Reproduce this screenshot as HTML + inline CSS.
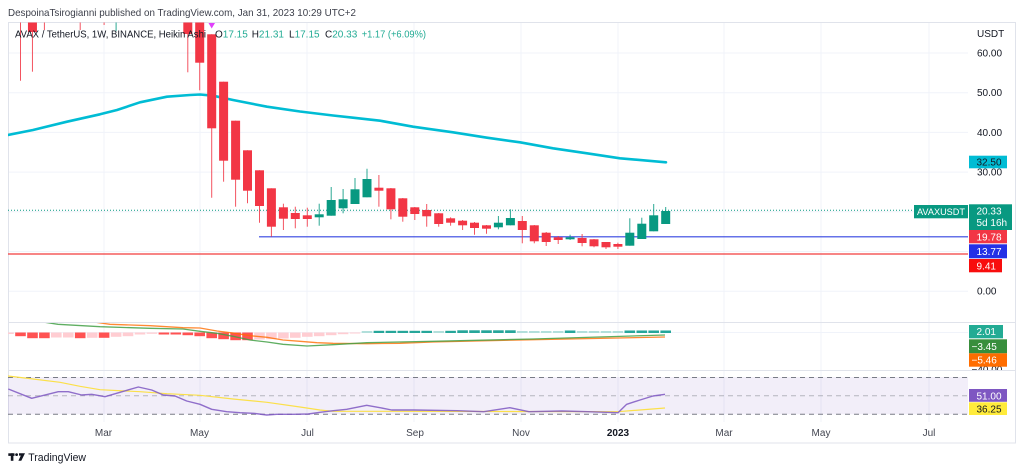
<!DOCTYPE html>
<html><head><meta charset="utf-8"><style>
html,body{margin:0;padding:0;background:#fff;}
svg{display:block;font-family:"Liberation Sans",sans-serif;}
</style></head><body>
<svg width="1024" height="473" viewBox="0 0 1024 473" xmlns="http://www.w3.org/2000/svg">
<defs>
<clipPath id="mainClip"><rect x="8" y="22.5" width="960" height="299.5"/></clipPath>
<clipPath id="macdClip"><rect x="8" y="323" width="960" height="47"/></clipPath>
<clipPath id="rsiClip"><rect x="8" y="371" width="960" height="51"/></clipPath>
<clipPath id="axClip"><rect x="969" y="323" width="47" height="47"/></clipPath>
</defs>
<rect x="0" y="0" width="1024" height="473" fill="#fff"/>

<!-- title -->
<text x="8" y="16" font-size="10.5" fill="#3c3f4a" textLength="348" lengthAdjust="spacingAndGlyphs">DespoinaTsirogianni published on TradingView.com, Jan 31, 2023 10:29 UTC+2</text>

<!-- grid vertical -->
<g stroke="#f0f3fa" stroke-width="1">
<line x1="104" y1="23" x2="104" y2="422"/>
<line x1="200" y1="23" x2="200" y2="422"/>
<line x1="307" y1="23" x2="307" y2="422"/>
<line x1="414" y1="23" x2="414" y2="422"/>
<line x1="521" y1="23" x2="521" y2="422"/>
<line x1="618" y1="23" x2="618" y2="422"/>
<line x1="724" y1="23" x2="724" y2="422"/>
<line x1="821" y1="23" x2="821" y2="422"/>
<line x1="929" y1="23" x2="929" y2="422"/>
</g>
<!-- grid horizontal -->
<g stroke="#f0f3fa" stroke-width="1">
<line x1="8" y1="53" x2="968" y2="53"/>
<line x1="8" y1="92.7" x2="968" y2="92.7"/>
<line x1="8" y1="132.4" x2="968" y2="132.4"/>
<line x1="8" y1="172.1" x2="968" y2="172.1"/>
<line x1="8" y1="211.8" x2="968" y2="211.8"/>
<line x1="8" y1="251.5" x2="968" y2="251.5"/>
<line x1="8" y1="291.2" x2="968" y2="291.2"/>
<line x1="8" y1="332.5" x2="968" y2="332.5"/>
</g>

<!-- frame -->
<rect x="8.5" y="22.5" width="1007" height="420.5" fill="none" stroke="#e0e3eb" stroke-width="1"/>
<line x1="8" y1="322.5" x2="1016" y2="322.5" stroke="#e0e3eb"/>
<line x1="8" y1="370.5" x2="1016" y2="370.5" stroke="#e0e3eb"/>

<!-- MAIN PANE -->
<g clip-path="url(#mainClip)">
<!-- level lines -->
<line x1="8" y1="210.3" x2="914" y2="210.3" stroke="#089981" stroke-width="1" stroke-dasharray="1 2"/>
<line x1="259" y1="236.8" x2="968" y2="236.8" stroke="#3344e0" stroke-width="1.2"/>
<line x1="8" y1="254" x2="968" y2="254" stroke="#f23c3c" stroke-width="1.2"/>

<!-- MA -->
<polyline fill="none" stroke="#00bcd4" stroke-width="2.6" stroke-linejoin="round" stroke-linecap="round"
points="8,135 33,130 67,121.7 100,114.3 117,110 140,102.3 167,96.7 190,95 200,94.5 213,95.7 233,100 267,106.7 300,111.5 333,115.5 353,117.7 380,120.7 413,126.7 453,132.3 487,137.7 520,142.3 553,148.3 587,153.3 620,158.3 666,162.3"/>

<!-- red wicks -->
<g stroke="#f23645" stroke-width="1" opacity="0.85">
<line x1="20.5" y1="15" x2="20.5" y2="80.7"/>
<line x1="32.45" y1="15" x2="32.45" y2="71.7"/>
<line x1="44.4" y1="15" x2="44.4" y2="30"/>
<line x1="80.2" y1="15" x2="80.2" y2="30"/>
<line x1="104.1" y1="15" x2="104.1" y2="25"/>
<line x1="187.8" y1="15" x2="187.8" y2="72.3"/>
<line x1="199.7" y1="15" x2="199.7" y2="90.3"/>
<line x1="211.7" y1="34.3" x2="211.7" y2="197.7"/>
<line x1="223.6" y1="81.7" x2="223.6" y2="181.7"/>
<line x1="235.6" y1="120.7" x2="235.6" y2="206.7"/>
<line x1="247.5" y1="150.3" x2="247.5" y2="203.3"/>
<line x1="259.5" y1="170.3" x2="259.5" y2="222.7"/>
<line x1="271.4" y1="188.3" x2="271.4" y2="236.7"/>
<line x1="283.4" y1="203.7" x2="283.4" y2="230"/>
<line x1="295.3" y1="206.7" x2="295.3" y2="228.3"/>
<line x1="307.3" y1="207.7" x2="307.3" y2="226.7"/>
<line x1="378.9" y1="175" x2="378.9" y2="206.7"/>
<line x1="390.9" y1="188" x2="390.9" y2="219.3"/>
<line x1="402.8" y1="198" x2="402.8" y2="221.7"/>
<line x1="414.8" y1="207" x2="414.8" y2="220"/>
<line x1="426.7" y1="204" x2="426.7" y2="226.7"/>
<line x1="438.7" y1="213" x2="438.7" y2="226.7"/>
<line x1="450.6" y1="217.3" x2="450.6" y2="225.7"/>
<line x1="462.6" y1="220" x2="462.6" y2="230"/>
<line x1="474.5" y1="222" x2="474.5" y2="234.7"/>
<line x1="486.5" y1="225" x2="486.5" y2="233.7"/>
<line x1="522.3" y1="216" x2="522.3" y2="243.3"/>
<line x1="534.3" y1="225" x2="534.3" y2="243.3"/>
<line x1="546.2" y1="232" x2="546.2" y2="246"/>
<line x1="558.2" y1="236" x2="558.2" y2="244"/>
<line x1="582.1" y1="234" x2="582.1" y2="246.3"/>
<line x1="594.0" y1="239" x2="594.0" y2="247.3"/>
<line x1="606.0" y1="242" x2="606.0" y2="249"/>
<line x1="617.9" y1="242.7" x2="617.9" y2="249"/>
</g>
<!-- green wicks -->
<g stroke="#089981" stroke-width="1" opacity="0.85">
<line x1="116.1" y1="15" x2="116.1" y2="31"/>
<line x1="319.2" y1="203.7" x2="319.2" y2="225.7"/>
<line x1="331.2" y1="187" x2="331.2" y2="215.7"/>
<line x1="343.1" y1="189" x2="343.1" y2="213.3"/>
<line x1="355.0" y1="178" x2="355.0" y2="204"/>
<line x1="367.0" y1="168.7" x2="367.0" y2="197.3"/>
<line x1="498.4" y1="216" x2="498.4" y2="229.3"/>
<line x1="510.4" y1="209.3" x2="510.4" y2="225.3"/>
<line x1="570.1" y1="234.7" x2="570.1" y2="240"/>
<line x1="629.8" y1="218.3" x2="629.8" y2="245.7"/>
<line x1="641.8" y1="217.7" x2="641.8" y2="239"/>
<line x1="653.7" y1="204" x2="653.7" y2="231.3"/>
<line x1="665.7" y1="207" x2="665.7" y2="224"/>
</g>
<!-- red bodies -->
<g fill="#f23645">
<rect x="27.95" y="15" width="9" height="17"/>
<rect x="183.3" y="15" width="9" height="19"/>
<rect x="195.2" y="15" width="9" height="47.7"/>
<rect x="207.2" y="34.3" width="9" height="94"/>
<rect x="219.1" y="81.7" width="9" height="79"/>
<rect x="231.1" y="120.7" width="9" height="59"/>
<rect x="243" y="150.3" width="9" height="40.4"/>
<rect x="255" y="170.3" width="9" height="35.7"/>
<rect x="266.9" y="188.3" width="9" height="38.4"/>
<rect x="278.9" y="207.3" width="9" height="11.4"/>
<rect x="290.8" y="213" width="9" height="6"/>
<rect x="302.8" y="215.3" width="9" height="3.7"/>
<rect x="374.4" y="187.7" width="9" height="3"/>
<rect x="386.4" y="188.3" width="9" height="21"/>
<rect x="398.3" y="198.3" width="9" height="18.4"/>
<rect x="410.3" y="207.3" width="9" height="6.7"/>
<rect x="422.2" y="210" width="9" height="6.3"/>
<rect x="434.2" y="213.3" width="9" height="10.7"/>
<rect x="446.1" y="218.3" width="9" height="4.4"/>
<rect x="458.1" y="220.7" width="9" height="4.6"/>
<rect x="470" y="222.7" width="9" height="5.3"/>
<rect x="482" y="225.3" width="9" height="3.4"/>
<rect x="517.8" y="221" width="9" height="9"/>
<rect x="529.8" y="225.3" width="9" height="16"/>
<rect x="541.7" y="232.7" width="9" height="9.3"/>
<rect x="553.7" y="237.3" width="9" height="2.7"/>
<rect x="577.6" y="238" width="9" height="5"/>
<rect x="589.5" y="239.3" width="9" height="7"/>
<rect x="601.5" y="242" width="9" height="5.3"/>
<rect x="613.4" y="244" width="9" height="2.7"/>
</g>
<!-- green bodies -->
<g fill="#089981">
<rect x="314.7" y="214.3" width="9" height="3"/>
<rect x="326.7" y="200" width="9" height="15.7"/>
<rect x="338.6" y="199.3" width="9" height="9"/>
<rect x="350.5" y="189.3" width="9" height="14.7"/>
<rect x="362.5" y="179" width="9" height="18.3"/>
<rect x="493.9" y="222.7" width="9" height="4.6"/>
<rect x="505.9" y="218" width="9" height="7.3"/>
<rect x="565.6" y="237.3" width="9" height="2"/>
<rect x="625.3" y="232.7" width="9" height="13"/>
<rect x="637.3" y="223.7" width="9" height="15.3"/>
<rect x="649.2" y="215.3" width="9" height="16"/>
<rect x="661.2" y="211" width="9" height="13"/>
</g>
<!-- signal triangle -->
<polygon points="208.5,23 215,23 211.7,28.5" fill="#e040fb"/>
</g>

<!-- legend -->
<text x="15" y="37.5" font-size="10" fill="#131722" textLength="191" lengthAdjust="spacingAndGlyphs">AVAX / TetherUS, 1W, BINANCE, Heikin Ashi</text>
<text x="215" y="37.5" font-size="10" fill="#131722">O<tspan fill="#22ab94">17.15</tspan></text>
<text x="251.7" y="37.5" font-size="10" fill="#131722">H<tspan fill="#22ab94">21.31</tspan></text>
<text x="289" y="37.5" font-size="10" fill="#131722">L<tspan fill="#22ab94">17.15</tspan></text>
<text x="325" y="37.5" font-size="10" fill="#131722">C<tspan fill="#22ab94">20.33</tspan></text>
<text x="361.7" y="37.5" font-size="10" fill="#22ab94" textLength="64.3" lengthAdjust="spacingAndGlyphs">+1.17 (+6.09%)</text>

<!-- price axis -->
<g font-size="10" fill="#131722">
<text x="977" y="37">USDT</text>
<text x="977" y="56.5">60.00</text>
<text x="977" y="96.2">50.00</text>
<text x="977" y="135.9">40.00</text>
<text x="977" y="175.6">30.00</text>
<text x="977" y="294.7">0.00</text>
</g>
<!-- price labels -->
<rect x="969" y="155.7" width="38" height="12.6" fill="#00bcd4"/>
<text x="976.5" y="165.5" font-size="10" fill="#131722">32.50</text>
<rect x="914" y="205" width="54" height="13.3" fill="#089981"/>
<text x="917" y="215" font-size="9.5" fill="#fff" textLength="48" lengthAdjust="spacingAndGlyphs">AVAXUSDT</text>
<rect x="969" y="204.3" width="43" height="25.7" fill="#089981"/>
<text x="976.5" y="214.5" font-size="10" fill="#fff">20.33</text>
<text x="976.5" y="226" font-size="10" fill="#fff">5d 16h</text>
<rect x="969" y="230" width="38" height="13.3" fill="#f23645"/>
<text x="976.5" y="240.5" font-size="10" fill="#fff">19.78</text>
<rect x="969" y="244.3" width="38" height="14" fill="#2430e6"/>
<text x="976.5" y="255" font-size="10" fill="#fff">13.77</text>
<rect x="969" y="259" width="33" height="13.3" fill="#f80d0d"/>
<text x="976.5" y="269.5" font-size="10" fill="#fff">9.41</text>

<!-- MACD PANE -->
<g clip-path="url(#macdClip)">
<g fill="#ff5252">
<rect x="15.2" y="332.5" width="10.6" height="3.7"/>
<rect x="27.2" y="332.5" width="10.6" height="5.7"/>
<rect x="39.1" y="332.5" width="10.6" height="5.7"/>
<rect x="74.9" y="332.5" width="10.6" height="5.7"/>
<rect x="98.8" y="332.5" width="10.6" height="5.3"/>
<rect x="158.6" y="332.5" width="10.6" height="2"/>
<rect x="170.5" y="332.5" width="10.6" height="2"/>
<rect x="182.5" y="332.5" width="10.6" height="2.7"/>
<rect x="194.4" y="332.5" width="10.6" height="3.7"/>
<rect x="206.4" y="332.5" width="10.6" height="5.7"/>
<rect x="218.3" y="332.5" width="10.6" height="6.7"/>
<rect x="230.3" y="332.5" width="10.6" height="7.7"/>
<rect x="242.2" y="332.5" width="10.6" height="7.7"/>
</g>
<g fill="#ffcdd2">
<rect x="8" y="332.5" width="5.8" height="1.5"/>
<rect x="51" y="332.5" width="10.6" height="5"/>
<rect x="63" y="332.5" width="10.6" height="5"/>
<rect x="86.9" y="332.5" width="10.6" height="5.3"/>
<rect x="110.8" y="332.5" width="10.6" height="4.3"/>
<rect x="122.7" y="332.5" width="10.6" height="3.7"/>
<rect x="134.7" y="332.5" width="10.6" height="2"/>
<rect x="146.6" y="332.5" width="10.6" height="1.3"/>
<rect x="254.2" y="332.5" width="10.6" height="7"/>
<rect x="266.1" y="332.5" width="10.6" height="6.7"/>
<rect x="278.1" y="332.5" width="10.6" height="6"/>
<rect x="290" y="332.5" width="10.6" height="5.3"/>
<rect x="302" y="332.5" width="10.6" height="4.3"/>
<rect x="313.9" y="332.5" width="10.6" height="3.7"/>
<rect x="325.9" y="332.5" width="10.6" height="2.7"/>
<rect x="337.8" y="332.5" width="10.6" height="1.7"/>
<rect x="349.7" y="332.5" width="10.6" height="1"/>
</g>
<g fill="#b2dfdb">
<rect x="361.7" y="331" width="10.6" height="2"/>
<rect x="433.4" y="331" width="10.6" height="2"/>
<rect x="517" y="331" width="10.6" height="2"/>
<rect x="529" y="331" width="10.6" height="2"/>
<rect x="540.9" y="331" width="10.6" height="2"/>
<rect x="552.9" y="331" width="10.6" height="2"/>
<rect x="576.8" y="331" width="10.6" height="2"/>
<rect x="588.7" y="331" width="10.6" height="2"/>
<rect x="600.7" y="331" width="10.6" height="2"/>
<rect x="612.6" y="331" width="10.6" height="2"/>
</g>
<g fill="#26a69a">
<rect x="373.6" y="330.8" width="10.6" height="2.2"/>
<rect x="385.6" y="330.8" width="10.6" height="2.2"/>
<rect x="397.5" y="330.8" width="10.6" height="2.2"/>
<rect x="409.5" y="330.8" width="10.6" height="2.2"/>
<rect x="421.4" y="330.8" width="10.6" height="2.2"/>
<rect x="445.3" y="330.8" width="10.6" height="2.2"/>
<rect x="457.3" y="330.3" width="10.6" height="2.7"/>
<rect x="469.2" y="330.3" width="10.6" height="2.7"/>
<rect x="481.2" y="330.3" width="10.6" height="2.7"/>
<rect x="493.1" y="330.3" width="10.6" height="2.7"/>
<rect x="505.1" y="330.3" width="10.6" height="2.7"/>
<rect x="564.8" y="330.5" width="10.6" height="2.5"/>
<rect x="624.5" y="330.5" width="10.6" height="2.5"/>
<rect x="636.5" y="330.5" width="10.6" height="2.5"/>
<rect x="648.4" y="330.5" width="10.6" height="2.5"/>
<rect x="660.4" y="330.5" width="10.6" height="2.5"/>
</g>
<polyline fill="none" stroke="#ff6d00" stroke-opacity="0.8" stroke-width="1.3" stroke-linejoin="round"
points="80,320 110,324.3 150,325.7 183,327.7 200,328 217,331 233,333 250,335.7 267,337.3 283,340 300,341.3 317,342.7 333,343.3 367,343.7 400,343.3 433,342 533,339.7 665,337"/>
<polyline fill="none" stroke="#43a047" stroke-opacity="0.85" stroke-width="1.3" stroke-linejoin="round"
points="30,320 58,324.3 100,326.7 150,328.3 183,329 200,331.3 217,333.3 233,336.3 250,340 267,342 283,344.3 307,346 333,344.7 367,342.7 433,341.3 533,339 665,335"/>
</g>
<!-- MACD labels -->
<g clip-path="url(#axClip)">
<text x="971.5" y="373" font-size="10" fill="#131722">−40.00</text>
</g>
<rect x="969" y="325" width="34" height="13.3" fill="#22ab94"/>
<text x="976.5" y="335.2" font-size="10" fill="#fff">2.01</text>
<rect x="969" y="339.3" width="38" height="14" fill="#388e3c"/>
<text x="971.5" y="350" font-size="10" fill="#fff">−3.45</text>
<rect x="969" y="353.3" width="38" height="13.4" fill="#ff6d00"/>
<text x="971.5" y="363.7" font-size="10" fill="#fff">−5.46</text>

<!-- RSI PANE -->
<g clip-path="url(#rsiClip)">
<rect x="8" y="377" width="960" height="37.3" fill="#7e57c2" fill-opacity="0.1"/>
<line x1="8" y1="377.5" x2="968" y2="377.5" stroke="#787b86" stroke-dasharray="5 4"/>
<line x1="8" y1="395.7" x2="968" y2="395.7" stroke="#787b86" stroke-opacity="0.5" stroke-dasharray="5 4"/>
<line x1="8" y1="414.3" x2="968" y2="414.3" stroke="#787b86" stroke-dasharray="5 4"/>
<polyline fill="none" stroke="#fbe04a" stroke-width="1.2" stroke-linejoin="round"
points="8,376 33,379 60,382.3 80,386.3 100,389.7 140,391.7 167,393.7 200,395.3 233,399 267,402.3 300,407 320,410 333,411.3 400,411.3 618,411.7 665,408"/>
<polyline fill="none" stroke="#7e57c2" stroke-opacity="0.85" stroke-width="1.4" stroke-linejoin="round"
points="8.3,389 31.7,398.3 58.3,391.7 68.3,391.7 81.7,395 91.7,394.3 105,396.7 120,392.3 138.3,387 151.7,390 163.3,395 175,396 186.7,401 200,404.3 211.7,409.3 226.7,411.7 240,412.7 253.3,413.3 266.7,415 276.7,414.3 293.3,414.3 308.3,414 320,412.3 333.3,410.7 346.7,409.3 366.7,405.3 380,407.7 391.7,410 413.7,410 457,410.7 483.7,411.7 509.8,407.7 529,411.7 562,411 588,411.7 618,412.7 626.7,404.3 640,400 653,396 665,394.3"/>
</g>
<rect x="969" y="389" width="38" height="12.8" fill="#7e57c2"/>
<text x="976.5" y="399.3" font-size="10" fill="#fff">51.00</text>
<rect x="969" y="402.3" width="38" height="12.7" fill="#ffeb3b"/>
<text x="976.5" y="412.5" font-size="10" fill="#131722">36.25</text>

<!-- time axis -->
<g font-size="10" fill="#434651" text-anchor="middle">
<text x="103.5" y="435.8">Mar</text>
<text x="199.5" y="435.8">May</text>
<text x="307.5" y="435.8">Jul</text>
<text x="415" y="435.8">Sep</text>
<text x="521" y="435.8">Nov</text>
<text x="618" y="435.8" font-weight="bold" fill="#131722">2023</text>
<text x="724" y="435.8">Mar</text>
<text x="821" y="435.8">May</text>
<text x="929" y="435.8">Jul</text>
</g>

<!-- TradingView logo -->
<g fill="#131722">
<rect x="8.3" y="453.3" width="6.2" height="2.6"/>
<rect x="10.8" y="453.3" width="2.6" height="7.5"/>
<circle cx="16.6" cy="454.6" r="1.4"/>
<polygon points="19,453.3 25,453.3 21.3,460.8 18.4,460.8 20.8,455.6 19,455.6"/>
</g>
<text x="28.3" y="461" font-size="11" fill="#131722" textLength="57.7" lengthAdjust="spacingAndGlyphs">TradingView</text>
</svg>
</body></html>
